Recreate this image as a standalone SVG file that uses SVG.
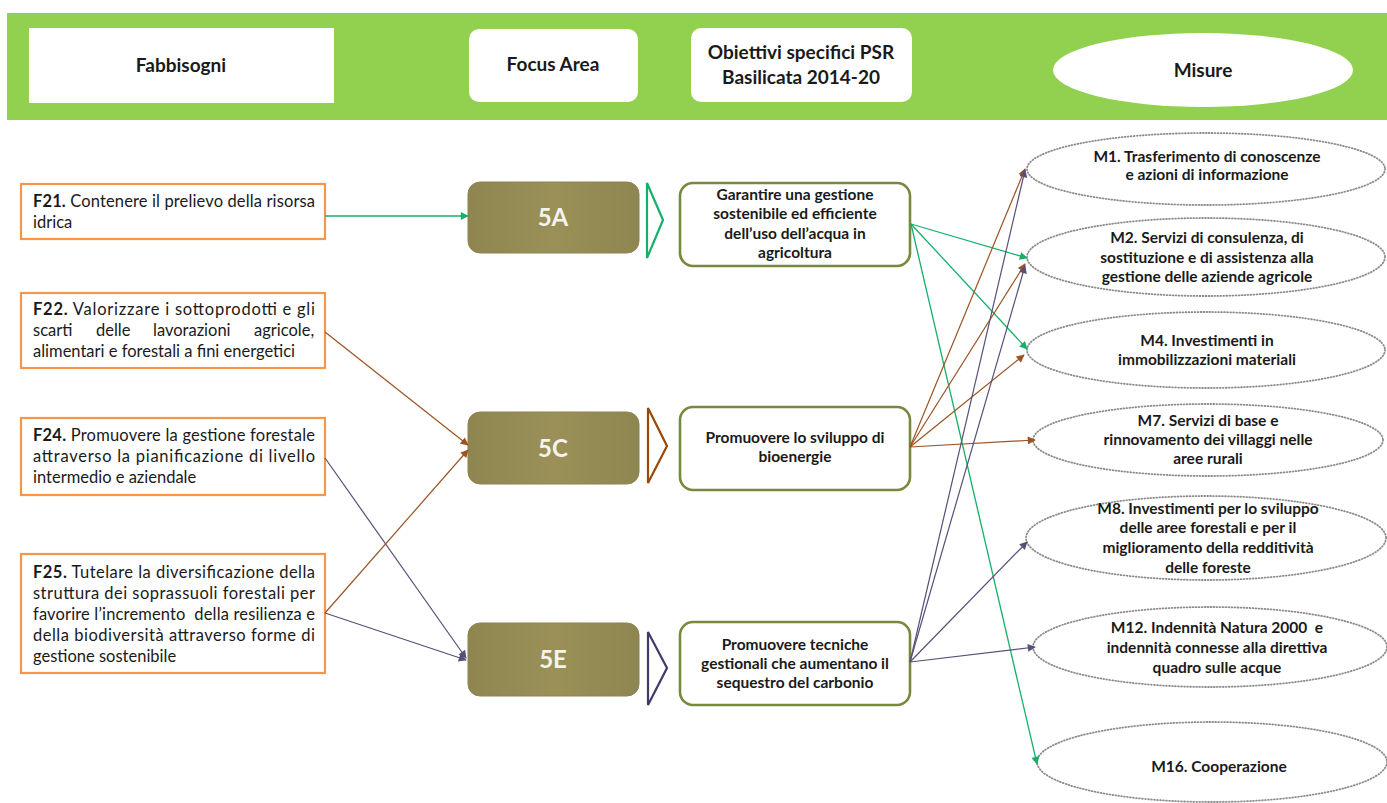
<svg xmlns="http://www.w3.org/2000/svg" width="1387" height="803" viewBox="0 0 1387 803">
<style>
  text { font-family: Lato, "Open Sans", sans-serif; fill: #1a1a1a; }
  .hdr { font-size: 19px; font-weight: bold; text-anchor: middle; }
  .need rect { fill: #ffffff; stroke: #F79646; stroke-width: 2.2; }
  .need text { font-size: 16.5px; }
  .b { font-weight: bold; }
  .pre { white-space: pre; }
  .fa rect { fill: url(#olive); stroke: #8C8450; stroke-width: 1; }
  .fa text { font-size: 24px; font-weight: bold; fill: #F4F4EC; text-anchor: middle; }
  .obj rect { fill: #ffffff; stroke: #77893E; stroke-width: 2.6; }
  .obj text { font-size: 15.5px; font-weight: bold; text-anchor: middle; }
  .mis ellipse { fill: #ffffff; stroke: #8C8C8C; stroke-width: 1.8; stroke-dasharray: 0.8 2.2; stroke-linecap: round; }
  .mis text { font-size: 15.5px; font-weight: bold; text-anchor: middle; }
  .chev { fill: none; stroke-width: 2.2; stroke-linejoin: miter; }
  .cg { stroke: #14B06A; stroke-width: 1.3; fill: none; marker-end: url(#ag); }
  .cb { stroke: #9A5324; stroke-width: 1.2; fill: none; marker-end: url(#ab); }
  .cp { stroke: #5A4E78; stroke-width: 1.2; fill: none; marker-end: url(#ap); }
</style>
<defs>
  <linearGradient id="olive" x1="0" y1="0" x2="1" y2="0">
    <stop offset="0" stop-color="#8E8550"/>
    <stop offset="0.5" stop-color="#9A9058"/>
    <stop offset="1" stop-color="#8E8550"/>
  </linearGradient>
  <marker id="ag" viewBox="0 0 10 10" refX="9" refY="5" markerWidth="10" markerHeight="8" markerUnits="userSpaceOnUse" orient="auto"><path d="M0,0 L10,5 L0,10 z" fill="#14B06A"/></marker>
  <marker id="ab" viewBox="0 0 10 10" refX="9" refY="5" markerWidth="10" markerHeight="8" markerUnits="userSpaceOnUse" orient="auto"><path d="M0,0 L10,5 L0,10 z" fill="#9A5324"/></marker>
  <marker id="ap" viewBox="0 0 10 10" refX="9" refY="5" markerWidth="10" markerHeight="8" markerUnits="userSpaceOnUse" orient="auto"><path d="M0,0 L10,5 L0,10 z" fill="#5A4E78"/></marker>
</defs>
<rect x="0" y="0" width="1387" height="803" fill="#ffffff"/>

<g id="header">
  <rect x="7" y="13" width="1380" height="107" fill="#92D050"/>
  <rect x="29" y="28" width="305" height="75" fill="#ffffff"/>
  <text class="hdr" x="181" y="72">Fabbisogni</text>
  <rect x="469" y="29" width="169" height="73" rx="10" fill="#ffffff"/>
  <text class="hdr" x="553" y="71">Focus Area</text>
  <rect x="691" y="28" width="221" height="74" rx="10" fill="#ffffff"/>
  <text class="hdr" x="801" y="59">Obiettivi specifici PSR</text>
  <text class="hdr" x="801" y="84">Basilicata 2014-20</text>
  <ellipse cx="1203" cy="70" rx="150" ry="37" fill="#ffffff"/>
  <text class="hdr" x="1203" y="77">Misure</text>
</g>

<g id="F21" class="need">
  <rect x="21" y="184" width="304" height="55"/>
  <text x="33" y="207" textLength="282" lengthAdjust="spacing"><tspan class="b">F21.</tspan> Contenere il prelievo della risorsa</text>
  <text x="33" y="228">idrica</text>
</g>
<g id="F22" class="need">
  <rect x="21" y="293" width="304" height="75"/>
  <text x="33" y="315" textLength="282" lengthAdjust="spacing"><tspan class="b">F22.</tspan> Valorizzare i sottoprodotti e gli</text>
  <text x="33" y="336"><tspan x="33">scarti</tspan><tspan x="96">delle</tspan><tspan x="153">lavorazioni</tspan><tspan x="254">agricole,</tspan></text>
  <text x="33" y="357">alimentari e forestali a fini energetici</text>
</g>
<g id="F24" class="need">
  <rect x="21" y="418" width="304" height="77"/>
  <text x="33" y="441" textLength="282" lengthAdjust="spacing"><tspan class="b">F24.</tspan> Promuovere la gestione forestale</text>
  <text x="33" y="462" textLength="282" lengthAdjust="spacing">attraverso la pianificazione di livello</text>
  <text x="33" y="483">intermedio e aziendale</text>
</g>
<g id="F25" class="need">
  <rect x="21" y="554" width="304" height="119"/>
  <text x="33" y="578" textLength="282" lengthAdjust="spacing"><tspan class="b">F25.</tspan> Tutelare la diversificazione della</text>
  <text x="33" y="599" textLength="282" lengthAdjust="spacing">struttura dei soprassuoli forestali per</text>
  <text x="33" y="620" class="pre" textLength="282" lengthAdjust="spacing">favorire l’incremento  della resilienza e</text>
  <text x="33" y="641" textLength="282" lengthAdjust="spacing">della biodiversità attraverso forme di</text>
  <text x="33" y="662">gestione sostenibile</text>
</g>

<g id="FA5A" class="fa">
  <rect x="468" y="182" width="171" height="71" rx="12"/>
  <text x="553" y="226">5A</text>
</g>
<g id="FA5C" class="fa">
  <rect x="468" y="412" width="171" height="72" rx="12"/>
  <text x="553" y="457">5C</text>
</g>
<g id="FA5E" class="fa">
  <rect x="468" y="623" width="171" height="73" rx="12"/>
  <text x="553" y="668">5E</text>
</g>

<g id="chevrons">
  <path class="chev" d="M647,183 L663,220 L647,258 Z" stroke="#14B06A"/>
  <path class="chev" d="M648,408 L667,446 L648,483 Z" stroke="#984807"/>
  <path class="chev" d="M648,632 L667,668 L648,705 Z" stroke="#403A6A"/>
</g>

<g id="O5A" class="obj">
  <rect x="680" y="183" width="230" height="83" rx="13"/>
  <text x="795" y="200">Garantire una gestione</text>
  <text x="795" y="219">sostenibile ed efficiente</text>
  <text x="795" y="239">dell’uso dell’acqua in</text>
  <text x="795" y="258">agricoltura</text>
</g>
<g id="O5C" class="obj">
  <rect x="680" y="407" width="230" height="83" rx="13"/>
  <text x="795" y="443">Promuovere lo sviluppo di</text>
  <text x="795" y="462">bioenergie</text>
</g>
<g id="O5E" class="obj">
  <rect x="680" y="622" width="230" height="83" rx="13"/>
  <text x="795" y="650">Promuovere tecniche</text>
  <text x="795" y="669">gestionali che aumentano il</text>
  <text x="795" y="688">sequestro del carbonio</text>
</g>

<g id="M1" class="mis">
  <ellipse cx="1206" cy="169" rx="179" ry="36"/>
  <text x="1207" y="162">M1. Trasferimento di conoscenze</text>
  <text x="1207" y="180">e azioni di informazione</text>
</g>
<g id="M2" class="mis">
  <ellipse cx="1206" cy="257" rx="179" ry="39"/>
  <text x="1207" y="243">M2. Servizi di consulenza, di</text>
  <text x="1207" y="263">sostituzione e di assistenza alla</text>
  <text x="1207" y="282">gestione delle aziende agricole</text>
</g>
<g id="M4" class="mis">
  <ellipse cx="1206" cy="350" rx="179" ry="38"/>
  <text x="1207" y="346">M4. Investimenti in</text>
  <text x="1207" y="365">immobilizzazioni materiali</text>
</g>
<g id="M7" class="mis">
  <ellipse cx="1208" cy="440" rx="175" ry="36"/>
  <text x="1208" y="426">M7. Servizi di base e</text>
  <text x="1208" y="445">rinnovamento dei villaggi nelle</text>
  <text x="1208" y="464">aree rurali</text>
</g>
<g id="M8" class="mis">
  <ellipse cx="1206" cy="538" rx="180" ry="42"/>
  <text x="1208" y="514">M8. Investimenti per lo sviluppo</text>
  <text x="1208" y="533">delle aree forestali e per il</text>
  <text x="1208" y="553">miglioramento della redditività</text>
  <text x="1208" y="573">delle foreste</text>
</g>
<g id="M12" class="mis">
  <ellipse cx="1210" cy="647" rx="177" ry="40"/>
  <text x="1217" y="633" class="pre">M12. Indennità Natura 2000  e</text>
  <text x="1217" y="653">indennità connesse alla direttiva</text>
  <text x="1217" y="673">quadro sulle acque</text>
</g>
<g id="M16" class="mis">
  <ellipse cx="1212" cy="762" rx="175" ry="40"/>
  <text x="1219" y="772">M16. Cooperazione</text>
</g>

<g id="connectors">
  <line class="cg" x1="325" y1="216" x2="468" y2="216"/>
  <line class="cg" x1="911" y1="224" x2="1027" y2="258"/>
  <line class="cg" x1="911" y1="224" x2="1027" y2="349"/>
  <line class="cg" x1="911" y1="224" x2="1037" y2="764"/>
  <line class="cb" x1="325" y1="332" x2="468" y2="445"/>
  <line class="cb" x1="325" y1="613" x2="468" y2="450"/>
  <line class="cb" x1="910" y1="447" x2="1025" y2="169"/>
  <line class="cb" x1="910" y1="447" x2="1025" y2="264"/>
  <line class="cb" x1="910" y1="447" x2="1024" y2="355"/>
  <line class="cb" x1="910" y1="447" x2="1035" y2="440"/>
  <line class="cp" x1="325" y1="458" x2="466" y2="658"/>
  <line class="cp" x1="325" y1="613" x2="466" y2="660"/>
  <line class="cp" x1="910" y1="662" x2="1025" y2="170"/>
  <line class="cp" x1="910" y1="662" x2="1025" y2="266"/>
  <line class="cp" x1="910" y1="662" x2="1027" y2="542"/>
  <line class="cp" x1="910" y1="662" x2="1035" y2="647"/>
</g>
</svg>
